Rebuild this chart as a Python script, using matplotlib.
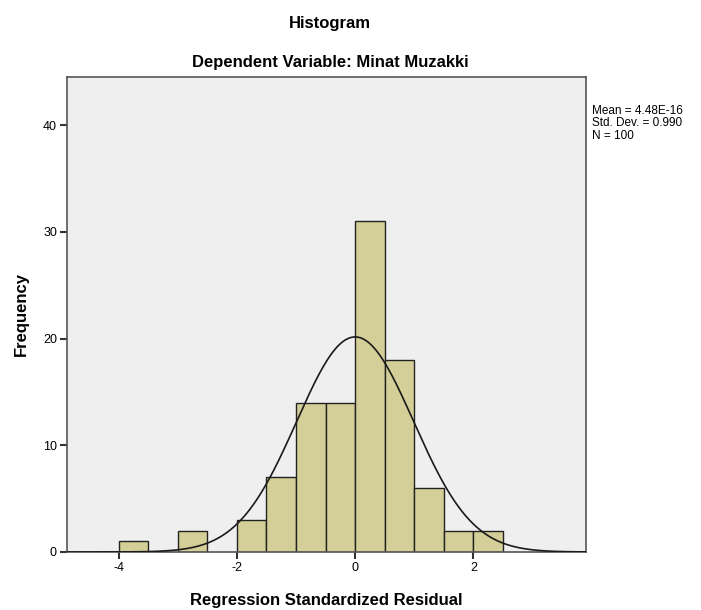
import numpy as np
import matplotlib
matplotlib.use('Agg')
from matplotlib import pyplot as plt

# histogram bins of regression standardized residuals (width 0.5)
bin_left = [-4.0, -3.5, -3.0, -2.5, -2.0, -1.5, -1.0, -0.5, 0.0, 0.5, 1.0, 1.5, 2.0]
counts = [1, 0, 2, 0, 3, 7, 14, 14, 31, 18, 6, 2, 2]
bin_width = 0.5

mean = 4.48e-16
std = 0.990
n = 100

plt.rcParams['font.family'] = ['Liberation Sans', 'DejaVu Sans']
plt.rcParams['axes.unicode_minus'] = False

fig = plt.figure(figsize=(7.01, 6.10), dpi=100)
ax = fig.add_axes([0.0951, 0.0951, 0.7404, 0.7787])
ax.set_facecolor('#efefef')

for left, c in zip(bin_left, counts):
    if c > 0:
        ax.bar(left, c, width=bin_width, align='edge', color='#d4cf98',
               edgecolor='#222222', linewidth=1.0, zorder=2)

# normal curve scaled to counts
xs = np.linspace(-4.88, 3.9, 400)
ys = n * bin_width * np.exp(-0.5 * ((xs - mean) / std) ** 2) / (std * np.sqrt(2 * np.pi))
ax.plot(xs, ys, color='#1a1a1a', linewidth=1.2, zorder=3)

ax.set_xlim(-4.88, 3.9)
ax.set_ylim(0, 44.5)
ax.set_xticks([-4, -2, 0, 2])
ax.set_yticks([0, 10, 20, 30, 40])
ax.tick_params(axis='both', direction='out', length=5, width=1.5, labelsize=9,
               color='#333333', pad=2)
for s in ax.spines.values():
    s.set_color('#555555')
    s.set_linewidth(1.2)

ax.set_xlabel('Regression Standardized Residual', fontsize=12, fontweight='bold', labelpad=14)
ax.set_ylabel('Frequency', fontsize=12, fontweight='bold', labelpad=10)

fig.text(0.4708, 0.962, 'Histogram', ha='center', va='center', fontsize=12, fontweight='bold')
fig.text(0.4708, 0.898, 'Dependent Variable: Minat Muzakki', ha='center', va='center',
         fontsize=12, fontweight='bold')

fig.text(0.845, 0.828, 'Mean = 4.48E-16\nStd. Dev. = 0.990\nN = 100', ha='left', va='top',
         fontsize=8.5, linespacing=1.05)

fig.savefig('out.png', dpi=100)
